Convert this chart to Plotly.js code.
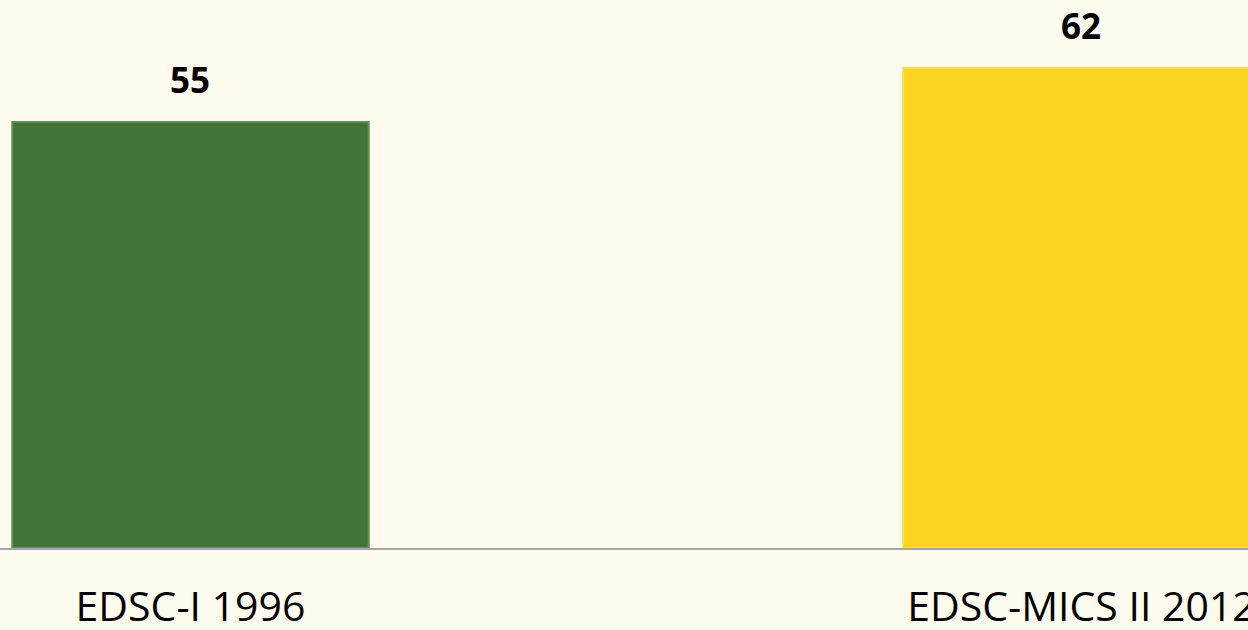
<!DOCTYPE html>
<html>
<head>
<meta charset="utf-8">
<script src="https://cdn.plot.ly/plotly-3.0.1.min.js"></script>
<style>html,body{margin:0;padding:0;background:#fdfaee;}#chart{width:1248px;height:630px;}</style>
</head>
<body>
<div id="chart"></div>
<script>
const categories = ["EDSC-I 1996", "EDSC-MICS II 2012"];
const values = [55, 62];
const barColors = ["#42733A", "#FDD421"];
const labelTexts = ["55", "62"];

const trace = {
  type: "bar",
  x: [0, 1],
  y: values,
  width: 0.4,
  marker: {color: barColors, line: {color: ["#5f9150", "#f5e23a"], width: 2}},
  hoverinfo: "skip"
};

const annotations = values.map((v, i) => ({
  x: i, y: v, xref: "x", yref: "y",
  text: "<b>" + labelTexts[i] + "</b>",
  showarrow: false, yanchor: "bottom", yshift: 17,
  font: {family: "Open Sans, sans-serif", size: 35, color: "#000000"}
}));

const layout = {
  width: 1248, height: 630,
  margin: {l: 0, r: 0, t: 0, b: 82},
  paper_bgcolor: "#fdfaee",
  plot_bgcolor: "#fdfaee",
  showlegend: false,
  bargap: 0,
  xaxis: {
    range: [-0.2138, 1.1869],
    tickmode: "array",
    tickvals: [0, 1],
    ticktext: categories,
    tickfont: {family: "Open Sans, sans-serif", size: 41, color: "#000000"},
    ticks: "",
    ticklabeloverflow: "allow",
    showline: true, linecolor: "#a6a6a6", linewidth: 1.5,
    showgrid: false, zeroline: false,
    ticklabelstandoff: 22,
    fixedrange: true
  },
  yaxis: {
    range: [0, 70.75],
    visible: false,
    showgrid: false, zeroline: false,
    fixedrange: true
  },
  annotations: annotations
};

Plotly.newPlot("chart", [trace], layout, {staticPlot: true, displayModeBar: false});
</script>
</body>
</html>
